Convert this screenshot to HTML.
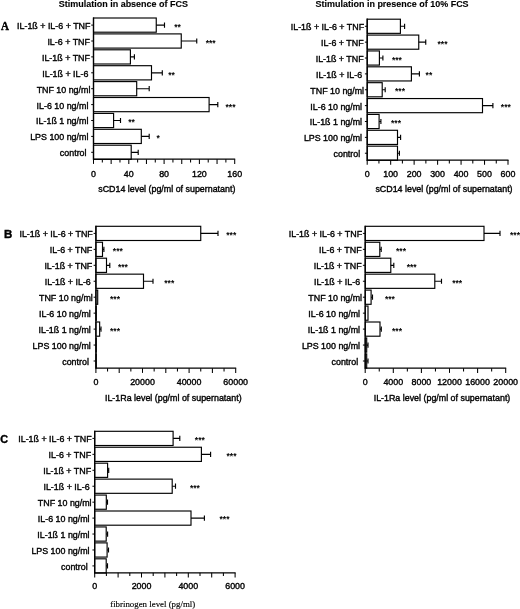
<!DOCTYPE html>
<html><head><meta charset="utf-8"><title>Figure</title>
<style>
html,body{margin:0;padding:0;background:#fff;}
svg{display:block;}
text{font-family:"Liberation Sans",sans-serif;fill:#000;}
.l{font-size:8.9px;stroke:#000;stroke-width:0.38px;}
.t{font-size:8.97px;font-weight:bold;stroke:#000;stroke-width:0.12px;}
.st{font-size:8.5px;font-weight:bold;}
.pa{font-family:"Liberation Serif",serif;font-weight:bold;font-size:11px;stroke:#000;stroke-width:0.4px;}
.pb{font-weight:bold;font-size:11.5px;stroke:#000;stroke-width:0.4px;}
.pc{font-weight:bold;font-size:10.8px;stroke:#000;stroke-width:0.4px;}
.ser{font-family:"Liberation Serif",serif;font-size:8.85px;stroke:#000;stroke-width:0.15px;}
</style></head>
<body>
<svg width="520" height="609" viewBox="0 0 520 609">
<rect width="520" height="609" fill="#fff"/>
<g opacity="0.999">

<text x="123.4" y="6.6" text-anchor="middle" class="t">Stimulation in absence of FCS</text>
<text x="392.1" y="6.7" text-anchor="middle" class="t">Stimulation in presence of 10% FCS</text>
<text transform="translate(0.9 30.4) scale(1.0 1.14)" class="pa">A</text>
<text x="4" y="238.3" class="pb">B</text>
<text x="0.3" y="443.4" class="pc">C</text>

<g id="A1">
<rect x="93.5" y="18" width="62.75" height="14.2" fill="#fff" stroke="#000" stroke-width="1.15"/>
<path d="M156.25 25.1H164.5M164.5 22.5V27.7" stroke="#000" stroke-width="1.15" fill="none"/>
<path d="M91.2 25.1H93.5" stroke="#000" stroke-width="1"/>
<text x="90.4" y="29.05" text-anchor="end" class="l">IL-1ß + IL-6 + TNF</text>
<text x="177.5" y="30" text-anchor="middle" class="st">**</text>
<rect x="93.5" y="33.9" width="87.75" height="14.2" fill="#fff" stroke="#000" stroke-width="1.15"/>
<path d="M181.25 41H196.75M196.75 38.4V43.6" stroke="#000" stroke-width="1.15" fill="none"/>
<path d="M91.2 41H93.5" stroke="#000" stroke-width="1"/>
<text x="89.9" y="44.95" text-anchor="end" class="l">IL-6 + TNF</text>
<text x="210.7" y="45.9" text-anchor="middle" class="st">***</text>
<rect x="93.5" y="49.8" width="36.9" height="14.2" fill="#fff" stroke="#000" stroke-width="1.15"/>
<path d="M130.4 56.9H134.4M134.4 54.3V59.5" stroke="#000" stroke-width="1.15" fill="none"/>
<path d="M91.2 56.9H93.5" stroke="#000" stroke-width="1"/>
<text x="89.9" y="60.85" text-anchor="end" class="l">IL-1ß + TNF</text>
<rect x="93.5" y="65.7" width="58" height="14.2" fill="#fff" stroke="#000" stroke-width="1.15"/>
<path d="M151.5 72.8H162.3M162.3 70.2V75.4" stroke="#000" stroke-width="1.15" fill="none"/>
<path d="M91.2 72.8H93.5" stroke="#000" stroke-width="1"/>
<text x="88.4" y="76.75" text-anchor="end" class="l">IL-1ß + IL-6</text>
<text x="171.6" y="77.7" text-anchor="middle" class="st">**</text>
<rect x="93.5" y="81.6" width="43.2" height="14.2" fill="#fff" stroke="#000" stroke-width="1.15"/>
<path d="M136.7 88.7H149.2M149.2 86.1V91.3" stroke="#000" stroke-width="1.15" fill="none"/>
<path d="M91.2 88.7H93.5" stroke="#000" stroke-width="1"/>
<text x="90.4" y="92.65" text-anchor="end" class="l">TNF 10 ng/ml</text>
<rect x="93.5" y="97.5" width="115.6" height="14.2" fill="#fff" stroke="#000" stroke-width="1.15"/>
<path d="M209.1 104.6H217.8M217.8 102V107.2" stroke="#000" stroke-width="1.15" fill="none"/>
<path d="M91.2 104.6H93.5" stroke="#000" stroke-width="1"/>
<text x="88.4" y="108.55" text-anchor="end" class="l">IL-6 10 ng/ml</text>
<text x="230.5" y="109.5" text-anchor="middle" class="st">***</text>
<rect x="93.5" y="113.4" width="20.1" height="14.2" fill="#fff" stroke="#000" stroke-width="1.15"/>
<path d="M113.6 120.5H120.5M120.5 117.9V123.1" stroke="#000" stroke-width="1.15" fill="none"/>
<path d="M91.2 120.5H93.5" stroke="#000" stroke-width="1"/>
<text x="88.4" y="124.45" text-anchor="end" class="l">IL-1ß 1 ng/ml</text>
<text x="131.6" y="125.4" text-anchor="middle" class="st">**</text>
<rect x="93.5" y="129.3" width="47.8" height="14.2" fill="#fff" stroke="#000" stroke-width="1.15"/>
<path d="M141.3 136.4H149.2M149.2 133.8V139" stroke="#000" stroke-width="1.15" fill="none"/>
<path d="M91.2 136.4H93.5" stroke="#000" stroke-width="1"/>
<text x="88.4" y="140.35" text-anchor="end" class="l">LPS 100 ng/ml</text>
<text x="158.2" y="141.3" text-anchor="middle" class="st">*</text>
<rect x="93.5" y="145.2" width="37.7" height="14.2" fill="#fff" stroke="#000" stroke-width="1.15"/>
<path d="M131.2 152.3H138.2M138.2 149.7V154.9" stroke="#000" stroke-width="1.15" fill="none"/>
<path d="M91.2 152.3H93.5" stroke="#000" stroke-width="1"/>
<text x="86.5" y="156.25" text-anchor="end" class="l">control</text>
<path d="M93.5 17.4V159.2H235.2" stroke="#000" stroke-width="1.3" fill="none"/>
<path d="M93.5 159.2v4.7" stroke="#000" stroke-width="1.05"/>
<path d="M102.33 159.2v3.3" stroke="#000" stroke-width="1.05"/>
<path d="M111.15 159.2v4.7" stroke="#000" stroke-width="1.05"/>
<path d="M119.97 159.2v3.3" stroke="#000" stroke-width="1.05"/>
<path d="M128.8 159.2v4.7" stroke="#000" stroke-width="1.05"/>
<path d="M137.62 159.2v3.3" stroke="#000" stroke-width="1.05"/>
<path d="M146.45 159.2v4.7" stroke="#000" stroke-width="1.05"/>
<path d="M155.28 159.2v3.3" stroke="#000" stroke-width="1.05"/>
<path d="M164.1 159.2v4.7" stroke="#000" stroke-width="1.05"/>
<path d="M172.93 159.2v3.3" stroke="#000" stroke-width="1.05"/>
<path d="M181.75 159.2v4.7" stroke="#000" stroke-width="1.05"/>
<path d="M190.57 159.2v3.3" stroke="#000" stroke-width="1.05"/>
<path d="M199.4 159.2v4.7" stroke="#000" stroke-width="1.05"/>
<path d="M208.22 159.2v3.3" stroke="#000" stroke-width="1.05"/>
<path d="M217.05 159.2v4.7" stroke="#000" stroke-width="1.05"/>
<path d="M225.88 159.2v3.3" stroke="#000" stroke-width="1.05"/>
<path d="M234.7 159.2v4.7" stroke="#000" stroke-width="1.05"/>
<text x="93.5" y="177" text-anchor="middle" class="l">0</text>
<text x="128.8" y="177" text-anchor="middle" class="l">40</text>
<text x="164.1" y="177" text-anchor="middle" class="l">80</text>
<text x="199.4" y="177" text-anchor="middle" class="l">120</text>
<text x="234.7" y="177" text-anchor="middle" class="l">160</text>
<text x="166.8" y="192.3" text-anchor="middle" class="l">sCD14 level (pg/ml of supernatant)</text>
</g>
<g id="A2">
<rect x="367.2" y="19.2" width="33.2" height="14.15" fill="#fff" stroke="#000" stroke-width="1.15"/>
<path d="M400.4 26.27H404.6M404.6 23.67V28.88" stroke="#000" stroke-width="1.15" fill="none"/>
<path d="M364.9 26.27H367.2" stroke="#000" stroke-width="1"/>
<text x="364.1" y="30.22" text-anchor="end" class="l">IL-1ß + IL-6 + TNF</text>
<rect x="367.2" y="35.07" width="51.55" height="14.15" fill="#fff" stroke="#000" stroke-width="1.15"/>
<path d="M418.75 42.15H425.75M425.75 39.55V44.75" stroke="#000" stroke-width="1.15" fill="none"/>
<path d="M364.9 42.15H367.2" stroke="#000" stroke-width="1"/>
<text x="363.6" y="46.1" text-anchor="end" class="l">IL-6 + TNF</text>
<text x="442.5" y="46.65" text-anchor="middle" class="st">***</text>
<rect x="367.2" y="50.94" width="12.2" height="14.15" fill="#fff" stroke="#000" stroke-width="1.15"/>
<path d="M379.4 58.02H382.9M382.9 55.41V60.62" stroke="#000" stroke-width="1.15" fill="none"/>
<path d="M364.9 58.02H367.2" stroke="#000" stroke-width="1"/>
<text x="363.6" y="61.97" text-anchor="end" class="l">IL-1ß + TNF</text>
<text x="396.9" y="62.52" text-anchor="middle" class="st">***</text>
<rect x="367.2" y="66.81" width="44.2" height="14.15" fill="#fff" stroke="#000" stroke-width="1.15"/>
<path d="M411.4 73.89H419.4M419.4 71.29V76.48" stroke="#000" stroke-width="1.15" fill="none"/>
<path d="M364.9 73.89H367.2" stroke="#000" stroke-width="1"/>
<text x="362.1" y="77.84" text-anchor="end" class="l">IL-1ß + IL-6</text>
<text x="428.9" y="78.39" text-anchor="middle" class="st">**</text>
<rect x="367.2" y="82.68" width="15" height="14.15" fill="#fff" stroke="#000" stroke-width="1.15"/>
<path d="M382.2 89.75H385.2M385.2 87.16V92.35" stroke="#000" stroke-width="1.15" fill="none"/>
<path d="M364.9 89.75H367.2" stroke="#000" stroke-width="1"/>
<text x="364.1" y="93.7" text-anchor="end" class="l">TNF 10 ng/ml</text>
<text x="400" y="94.25" text-anchor="middle" class="st">***</text>
<rect x="367.2" y="98.55" width="115.3" height="14.15" fill="#fff" stroke="#000" stroke-width="1.15"/>
<path d="M482.5 105.62H492.9M492.9 103.03V108.22" stroke="#000" stroke-width="1.15" fill="none"/>
<path d="M364.9 105.62H367.2" stroke="#000" stroke-width="1"/>
<text x="362.1" y="109.58" text-anchor="end" class="l">IL-6 10 ng/ml</text>
<text x="505.8" y="110.12" text-anchor="middle" class="st">***</text>
<rect x="367.2" y="114.42" width="11.9" height="14.15" fill="#fff" stroke="#000" stroke-width="1.15"/>
<path d="M379.1 121.5H380.9M380.9 118.9V124.09" stroke="#000" stroke-width="1.15" fill="none"/>
<path d="M364.9 121.5H367.2" stroke="#000" stroke-width="1"/>
<text x="362.1" y="125.45" text-anchor="end" class="l">IL-1ß 1 ng/ml</text>
<text x="396" y="126" text-anchor="middle" class="st">***</text>
<rect x="367.2" y="130.29" width="30.3" height="14.15" fill="#fff" stroke="#000" stroke-width="1.15"/>
<path d="M397.5 137.36H400.6M400.6 134.76V139.96" stroke="#000" stroke-width="1.15" fill="none"/>
<path d="M364.9 137.36H367.2" stroke="#000" stroke-width="1"/>
<text x="362.1" y="141.31" text-anchor="end" class="l">LPS 100 ng/ml</text>
<rect x="367.2" y="146.16" width="30.3" height="14.15" fill="#fff" stroke="#000" stroke-width="1.15"/>
<path d="M397.5 153.23H399.4M399.4 150.63V155.83" stroke="#000" stroke-width="1.15" fill="none"/>
<path d="M364.9 153.23H367.2" stroke="#000" stroke-width="1"/>
<text x="360.2" y="157.18" text-anchor="end" class="l">control</text>
<path d="M367.2 18.6V160.1H508.5" stroke="#000" stroke-width="1.3" fill="none"/>
<path d="M367.2 160.1v4.7" stroke="#000" stroke-width="1.05"/>
<path d="M378.93 160.1v3.3" stroke="#000" stroke-width="1.05"/>
<path d="M390.67 160.1v4.7" stroke="#000" stroke-width="1.05"/>
<path d="M402.4 160.1v3.3" stroke="#000" stroke-width="1.05"/>
<path d="M414.13 160.1v4.7" stroke="#000" stroke-width="1.05"/>
<path d="M425.87 160.1v3.3" stroke="#000" stroke-width="1.05"/>
<path d="M437.6 160.1v4.7" stroke="#000" stroke-width="1.05"/>
<path d="M449.33 160.1v3.3" stroke="#000" stroke-width="1.05"/>
<path d="M461.07 160.1v4.7" stroke="#000" stroke-width="1.05"/>
<path d="M472.8 160.1v3.3" stroke="#000" stroke-width="1.05"/>
<path d="M484.53 160.1v4.7" stroke="#000" stroke-width="1.05"/>
<path d="M496.27 160.1v3.3" stroke="#000" stroke-width="1.05"/>
<path d="M508 160.1v4.7" stroke="#000" stroke-width="1.05"/>
<text x="367.2" y="176.6" text-anchor="middle" class="l">0</text>
<text x="390.67" y="176.6" text-anchor="middle" class="l">100</text>
<text x="414.13" y="176.6" text-anchor="middle" class="l">200</text>
<text x="437.6" y="176.6" text-anchor="middle" class="l">300</text>
<text x="461.07" y="176.6" text-anchor="middle" class="l">400</text>
<text x="484.53" y="176.6" text-anchor="middle" class="l">500</text>
<text x="508" y="176.6" text-anchor="middle" class="l">600</text>
<text x="444" y="192.1" text-anchor="middle" class="l">sCD14 level (pg/ml of supernatant)</text>
</g>
<g id="B1">
<rect x="95.9" y="226.3" width="104.85" height="14.2" fill="#fff" stroke="#000" stroke-width="1.15"/>
<path d="M200.75 233.4H218M218 230.8V236" stroke="#000" stroke-width="1.15" fill="none"/>
<path d="M93.6 233.4H95.9" stroke="#000" stroke-width="1"/>
<text x="92.8" y="237.35" text-anchor="end" class="l">IL-1ß + IL-6 + TNF</text>
<text x="231.25" y="238.3" text-anchor="middle" class="st">***</text>
<rect x="95.9" y="242.25" width="6.6" height="14.2" fill="#fff" stroke="#000" stroke-width="1.15"/>
<path d="M102.5 249.35H103.9M103.9 246.75V251.95" stroke="#000" stroke-width="1.15" fill="none"/>
<path d="M93.6 249.35H95.9" stroke="#000" stroke-width="1"/>
<text x="92.3" y="253.3" text-anchor="end" class="l">IL-6 + TNF</text>
<text x="117.8" y="254.25" text-anchor="middle" class="st">***</text>
<rect x="95.9" y="258.2" width="10.6" height="14.2" fill="#fff" stroke="#000" stroke-width="1.15"/>
<path d="M106.5 265.3H109.8M109.8 262.7V267.9" stroke="#000" stroke-width="1.15" fill="none"/>
<path d="M93.6 265.3H95.9" stroke="#000" stroke-width="1"/>
<text x="92.3" y="269.25" text-anchor="end" class="l">IL-1ß + TNF</text>
<text x="122.9" y="270.2" text-anchor="middle" class="st">***</text>
<rect x="95.9" y="274.15" width="47.6" height="14.2" fill="#fff" stroke="#000" stroke-width="1.15"/>
<path d="M143.5 281.25H153M153 278.65V283.85" stroke="#000" stroke-width="1.15" fill="none"/>
<path d="M93.6 281.25H95.9" stroke="#000" stroke-width="1"/>
<text x="90.8" y="285.2" text-anchor="end" class="l">IL-1ß + IL-6</text>
<text x="169.25" y="286.15" text-anchor="middle" class="st">***</text>
<rect x="95.9" y="290.1" width="1.8" height="14.2" fill="#fff" stroke="#000" stroke-width="1.15"/>
<path d="M93.6 297.2H95.9" stroke="#000" stroke-width="1"/>
<text x="92.8" y="301.15" text-anchor="end" class="l">TNF 10 ng/ml</text>
<text x="115" y="302.1" text-anchor="middle" class="st">***</text>
<rect x="95.9" y="306.05" width="0.4" height="14.2" fill="#fff" stroke="#000" stroke-width="1.15"/>
<path d="M93.6 313.15H95.9" stroke="#000" stroke-width="1"/>
<text x="90.8" y="317.1" text-anchor="end" class="l">IL-6 10 ng/ml</text>
<rect x="95.9" y="322" width="3.75" height="14.2" fill="#fff" stroke="#000" stroke-width="1.15"/>
<path d="M99.65 329.1H101M101 326.5V331.7" stroke="#000" stroke-width="1.15" fill="none"/>
<path d="M93.6 329.1H95.9" stroke="#000" stroke-width="1"/>
<text x="90.8" y="333.05" text-anchor="end" class="l">IL-1ß 1 ng/ml</text>
<text x="115" y="334" text-anchor="middle" class="st">***</text>
<rect x="95.9" y="337.95" width="0.4" height="14.2" fill="#fff" stroke="#000" stroke-width="1.15"/>
<path d="M93.6 345.05H95.9" stroke="#000" stroke-width="1"/>
<text x="90.8" y="349" text-anchor="end" class="l">LPS 100 ng/ml</text>
<rect x="95.9" y="353.9" width="0.4" height="14.2" fill="#fff" stroke="#000" stroke-width="1.15"/>
<path d="M93.6 361H95.9" stroke="#000" stroke-width="1"/>
<text x="88.9" y="364.95" text-anchor="end" class="l">control</text>
<path d="M95.9 225.7V368.2H236.2" stroke="#000" stroke-width="1.3" fill="none"/>
<path d="M95.9 368.2v4.7" stroke="#000" stroke-width="1.05"/>
<path d="M107.55 368.2v3.3" stroke="#000" stroke-width="1.05"/>
<path d="M119.2 368.2v4.7" stroke="#000" stroke-width="1.05"/>
<path d="M130.85 368.2v3.3" stroke="#000" stroke-width="1.05"/>
<path d="M142.5 368.2v4.7" stroke="#000" stroke-width="1.05"/>
<path d="M154.15 368.2v3.3" stroke="#000" stroke-width="1.05"/>
<path d="M165.8 368.2v4.7" stroke="#000" stroke-width="1.05"/>
<path d="M177.45 368.2v3.3" stroke="#000" stroke-width="1.05"/>
<path d="M189.1 368.2v4.7" stroke="#000" stroke-width="1.05"/>
<path d="M200.75 368.2v3.3" stroke="#000" stroke-width="1.05"/>
<path d="M212.4 368.2v4.7" stroke="#000" stroke-width="1.05"/>
<path d="M224.05 368.2v3.3" stroke="#000" stroke-width="1.05"/>
<path d="M235.7 368.2v4.7" stroke="#000" stroke-width="1.05"/>
<text x="95.9" y="384.9" text-anchor="middle" class="l">0</text>
<text x="142.5" y="384.9" text-anchor="middle" class="l">20000</text>
<text x="189.1" y="384.9" text-anchor="middle" class="l">40000</text>
<text x="235.7" y="384.9" text-anchor="middle" class="l">60000</text>
<text x="173.3" y="400.8" text-anchor="middle" class="l">IL-1Ra level (pg/ml of supernatant)</text>
</g>
<g id="B2">
<rect x="365.2" y="226.3" width="118.8" height="14.2" fill="#fff" stroke="#000" stroke-width="1.15"/>
<path d="M484 233.4H500M500 230.8V236" stroke="#000" stroke-width="1.15" fill="none"/>
<path d="M362.9 233.4H365.2" stroke="#000" stroke-width="1"/>
<text x="362.1" y="237.35" text-anchor="end" class="l">IL-1ß + IL-6 + TNF</text>
<text x="515" y="238.3" text-anchor="middle" class="st">***</text>
<rect x="365.2" y="242.25" width="14.6" height="14.2" fill="#fff" stroke="#000" stroke-width="1.15"/>
<path d="M379.8 249.35H381.2M381.2 246.75V251.95" stroke="#000" stroke-width="1.15" fill="none"/>
<path d="M362.9 249.35H365.2" stroke="#000" stroke-width="1"/>
<text x="361.6" y="253.3" text-anchor="end" class="l">IL-6 + TNF</text>
<text x="401" y="254.25" text-anchor="middle" class="st">***</text>
<rect x="365.2" y="258.2" width="25.6" height="14.2" fill="#fff" stroke="#000" stroke-width="1.15"/>
<path d="M390.8 265.3H393.8M393.8 262.7V267.9" stroke="#000" stroke-width="1.15" fill="none"/>
<path d="M362.9 265.3H365.2" stroke="#000" stroke-width="1"/>
<text x="361.6" y="269.25" text-anchor="end" class="l">IL-1ß + TNF</text>
<text x="411.7" y="270.2" text-anchor="middle" class="st">***</text>
<rect x="365.2" y="274.15" width="69.6" height="14.2" fill="#fff" stroke="#000" stroke-width="1.15"/>
<path d="M434.8 281.25H441.5M441.5 278.65V283.85" stroke="#000" stroke-width="1.15" fill="none"/>
<path d="M362.9 281.25H365.2" stroke="#000" stroke-width="1"/>
<text x="360.1" y="285.2" text-anchor="end" class="l">IL-1ß + IL-6</text>
<text x="457.2" y="286.15" text-anchor="middle" class="st">***</text>
<rect x="365.2" y="290.1" width="5.9" height="14.2" fill="#fff" stroke="#000" stroke-width="1.15"/>
<path d="M371.1 297.2H372.5M372.5 294.6V299.8" stroke="#000" stroke-width="1.15" fill="none"/>
<path d="M362.9 297.2H365.2" stroke="#000" stroke-width="1"/>
<text x="362.1" y="301.15" text-anchor="end" class="l">TNF 10 ng/ml</text>
<text x="389.9" y="302.1" text-anchor="middle" class="st">***</text>
<rect x="365.2" y="306.05" width="2.8" height="14.2" fill="#fff" stroke="#000" stroke-width="1.15"/>
<path d="M362.9 313.15H365.2" stroke="#000" stroke-width="1"/>
<text x="360.1" y="317.1" text-anchor="end" class="l">IL-6 10 ng/ml</text>
<rect x="365.2" y="322" width="14.8" height="14.2" fill="#fff" stroke="#000" stroke-width="1.15"/>
<path d="M380 329.1H381.3M381.3 326.5V331.7" stroke="#000" stroke-width="1.15" fill="none"/>
<path d="M362.9 329.1H365.2" stroke="#000" stroke-width="1"/>
<text x="360.1" y="333.05" text-anchor="end" class="l">IL-1ß 1 ng/ml</text>
<text x="397" y="334" text-anchor="middle" class="st">***</text>
<rect x="365.2" y="337.95" width="1.5" height="14.2" fill="#fff" stroke="#000" stroke-width="1.15"/>
<path d="M366.7 345.05H368M368 342.45V347.65" stroke="#000" stroke-width="1.15" fill="none"/>
<path d="M362.9 345.05H365.2" stroke="#000" stroke-width="1"/>
<text x="360.1" y="349" text-anchor="end" class="l">LPS 100 ng/ml</text>
<rect x="365.2" y="353.9" width="1.5" height="14.2" fill="#fff" stroke="#000" stroke-width="1.15"/>
<path d="M366.7 361H368M368 358.4V363.6" stroke="#000" stroke-width="1.15" fill="none"/>
<path d="M362.9 361H365.2" stroke="#000" stroke-width="1"/>
<text x="358.2" y="364.95" text-anchor="end" class="l">control</text>
<path d="M365.2 225.7V368.2H506.2" stroke="#000" stroke-width="1.3" fill="none"/>
<path d="M365.2 368.2v4.7" stroke="#000" stroke-width="1.05"/>
<path d="M379.25 368.2v3.3" stroke="#000" stroke-width="1.05"/>
<path d="M393.3 368.2v4.7" stroke="#000" stroke-width="1.05"/>
<path d="M407.35 368.2v3.3" stroke="#000" stroke-width="1.05"/>
<path d="M421.4 368.2v4.7" stroke="#000" stroke-width="1.05"/>
<path d="M435.45 368.2v3.3" stroke="#000" stroke-width="1.05"/>
<path d="M449.5 368.2v4.7" stroke="#000" stroke-width="1.05"/>
<path d="M463.55 368.2v3.3" stroke="#000" stroke-width="1.05"/>
<path d="M477.6 368.2v4.7" stroke="#000" stroke-width="1.05"/>
<path d="M491.65 368.2v3.3" stroke="#000" stroke-width="1.05"/>
<path d="M505.7 368.2v4.7" stroke="#000" stroke-width="1.05"/>
<text x="365.2" y="384.9" text-anchor="middle" class="l">0</text>
<text x="393.3" y="384.9" text-anchor="middle" class="l">4000</text>
<text x="421.4" y="384.9" text-anchor="middle" class="l">8000</text>
<text x="449.5" y="384.9" text-anchor="middle" class="l">12000</text>
<text x="477.6" y="384.9" text-anchor="middle" class="l">16000</text>
<text x="505.7" y="384.9" text-anchor="middle" class="l">20000</text>
<text x="442" y="400.8" text-anchor="middle" class="l">IL-1Ra level (pg/ml of supernatant)</text>
</g>
<g id="C">
<rect x="94.7" y="431.3" width="78.4" height="14.2" fill="#fff" stroke="#000" stroke-width="1.15"/>
<path d="M173.1 438.4H179.8M179.8 435.8V441" stroke="#000" stroke-width="1.15" fill="none"/>
<path d="M92.4 438.4H94.7" stroke="#000" stroke-width="1"/>
<text x="91.6" y="442.35" text-anchor="end" class="l">IL-1ß + IL-6 + TNF</text>
<text x="199.8" y="442.7" text-anchor="middle" class="st">***</text>
<rect x="94.7" y="447.24" width="106.7" height="14.2" fill="#fff" stroke="#000" stroke-width="1.15"/>
<path d="M201.4 454.34H210.6M210.6 451.74V456.94" stroke="#000" stroke-width="1.15" fill="none"/>
<path d="M92.4 454.34H94.7" stroke="#000" stroke-width="1"/>
<text x="91.1" y="458.29" text-anchor="end" class="l">IL-6 + TNF</text>
<text x="231.5" y="458.64" text-anchor="middle" class="st">***</text>
<rect x="94.7" y="463.18" width="12.9" height="14.2" fill="#fff" stroke="#000" stroke-width="1.15"/>
<path d="M107.6 470.28H108.7M108.7 467.68V472.88" stroke="#000" stroke-width="1.15" fill="none"/>
<path d="M92.4 470.28H94.7" stroke="#000" stroke-width="1"/>
<text x="91.1" y="474.23" text-anchor="end" class="l">IL-1ß + TNF</text>
<rect x="94.7" y="479.12" width="77.5" height="14.2" fill="#fff" stroke="#000" stroke-width="1.15"/>
<path d="M172.2 486.22H175.5M175.5 483.62V488.82" stroke="#000" stroke-width="1.15" fill="none"/>
<path d="M92.4 486.22H94.7" stroke="#000" stroke-width="1"/>
<text x="89.6" y="490.17" text-anchor="end" class="l">IL-1ß + IL-6</text>
<text x="194.9" y="490.52" text-anchor="middle" class="st">***</text>
<rect x="94.7" y="495.06" width="11.6" height="14.2" fill="#fff" stroke="#000" stroke-width="1.15"/>
<path d="M106.3 502.16H107.5M107.5 499.56V504.76" stroke="#000" stroke-width="1.15" fill="none"/>
<path d="M92.4 502.16H94.7" stroke="#000" stroke-width="1"/>
<text x="91.6" y="506.11" text-anchor="end" class="l">TNF 10 ng/ml</text>
<rect x="94.7" y="511" width="96.3" height="14.2" fill="#fff" stroke="#000" stroke-width="1.15"/>
<path d="M191 518.1H204.4M204.4 515.5V520.7" stroke="#000" stroke-width="1.15" fill="none"/>
<path d="M92.4 518.1H94.7" stroke="#000" stroke-width="1"/>
<text x="89.6" y="522.05" text-anchor="end" class="l">IL-6 10 ng/ml</text>
<text x="224.5" y="522.4" text-anchor="middle" class="st">***</text>
<rect x="94.7" y="526.94" width="11.5" height="14.2" fill="#fff" stroke="#000" stroke-width="1.15"/>
<path d="M106.2 534.04H107.6M107.6 531.44V536.64" stroke="#000" stroke-width="1.15" fill="none"/>
<path d="M92.4 534.04H94.7" stroke="#000" stroke-width="1"/>
<text x="89.6" y="537.99" text-anchor="end" class="l">IL-1ß 1 ng/ml</text>
<rect x="94.7" y="542.88" width="12.4" height="14.2" fill="#fff" stroke="#000" stroke-width="1.15"/>
<path d="M107.1 549.98H108.5M108.5 547.38V552.58" stroke="#000" stroke-width="1.15" fill="none"/>
<path d="M92.4 549.98H94.7" stroke="#000" stroke-width="1"/>
<text x="89.6" y="553.93" text-anchor="end" class="l">LPS 100 ng/ml</text>
<rect x="94.7" y="558.82" width="11.5" height="14.2" fill="#fff" stroke="#000" stroke-width="1.15"/>
<path d="M106.2 565.92H107.5M107.5 563.32V568.52" stroke="#000" stroke-width="1.15" fill="none"/>
<path d="M92.4 565.92H94.7" stroke="#000" stroke-width="1"/>
<text x="87.7" y="569.87" text-anchor="end" class="l">control</text>
<path d="M94.7 430.7V572.8H235.6" stroke="#000" stroke-width="1.3" fill="none"/>
<path d="M94.7 572.8v4.7" stroke="#000" stroke-width="1.05"/>
<path d="M106.4 572.8v3.3" stroke="#000" stroke-width="1.05"/>
<path d="M118.1 572.8v4.7" stroke="#000" stroke-width="1.05"/>
<path d="M129.8 572.8v3.3" stroke="#000" stroke-width="1.05"/>
<path d="M141.5 572.8v4.7" stroke="#000" stroke-width="1.05"/>
<path d="M153.2 572.8v3.3" stroke="#000" stroke-width="1.05"/>
<path d="M164.9 572.8v4.7" stroke="#000" stroke-width="1.05"/>
<path d="M176.6 572.8v3.3" stroke="#000" stroke-width="1.05"/>
<path d="M188.3 572.8v4.7" stroke="#000" stroke-width="1.05"/>
<path d="M200 572.8v3.3" stroke="#000" stroke-width="1.05"/>
<path d="M211.7 572.8v4.7" stroke="#000" stroke-width="1.05"/>
<path d="M223.4 572.8v3.3" stroke="#000" stroke-width="1.05"/>
<path d="M235.1 572.8v4.7" stroke="#000" stroke-width="1.05"/>
<text x="94.7" y="588.7" text-anchor="middle" class="l">0</text>
<text x="141.5" y="588.7" text-anchor="middle" class="l">2000</text>
<text x="188.3" y="588.7" text-anchor="middle" class="l">4000</text>
<text x="235.1" y="588.7" text-anchor="middle" class="l">6000</text>
<text x="152.7" y="607.1" text-anchor="middle" class="ser">fibrinogen level (pg/ml)</text>
</g>
</g>
</svg>
</body></html>
